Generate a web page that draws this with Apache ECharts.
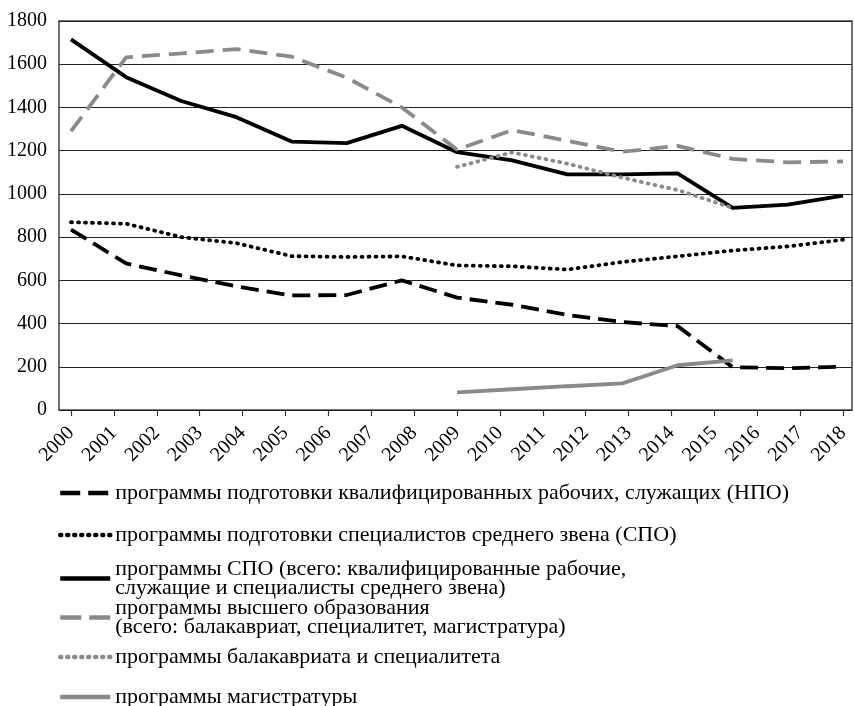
<!DOCTYPE html>
<html>
<head>
<meta charset="utf-8">
<script src="https://cdn.jsdelivr.net/npm/echarts@6/dist/echarts.min.js"></script>
<style>
  html, body { margin: 0; padding: 0; background: #fff; }
  #chart { width: 854px; height: 706px; }
</style>
</head>
<body>
<div id="chart"></div>
<script>
// tick labels on the x axis
const years = ['2000', '2001', '2002', '2003', '2004', '2005', '2006', '2007', '2008', '2009',
  '2010', '2011', '2012', '2013', '2014', '2015', '2016', '2017', '2018'];
// the lines have 15 evenly spaced points stretched over the same span
const points = ['1', '2', '3', '4', '5', '6', '7', '8', '9', '10', '11', '12', '13', '14', '15'];

const npo = [835, 678, 623, 572, 530, 532, 600, 520, 487, 440, 407, 388, 198, 193, 200];
const spoSpec = [869, 862, 800, 772, 712, 708, 711, 669, 665, 650, 685, 711, 738, 757, 788];
const spoTotal = [1715, 1540, 1430, 1355, 1242, 1235, 1315, 1193, 1155, 1090, 1090, 1095, 935, 950, 992];
const higher = [1290, 1632, 1650, 1670, 1635, 1538, 1400, 1205, 1295, 1246, 1195, 1222, 1162, 1146, 1150];
const bachelor = [null, null, null, null, null, null, null, 1125, 1192, 1140, 1075, 1018, 935, null, null];
const master = [null, null, null, null, null, null, null, 82, 96, 110, 123, 207, 230, null, null];

const names = [
  'программы подготовки квалифицированных рабочих, служащих (НПО)',
  'программы подготовки специалистов среднего звена (СПО)',
  'программы СПО (всего: квалифицированные рабочие,\nслужащие и специалисты среднего звена)',
  'программы высшего образования\n(всего: балакавриат, специалитет, магистратура)',
  'программы балакавриата и специалитета',
  'программы магистратуры'
];

const font = 'Liberation Serif, Times New Roman, serif';
const black = '#000';
const gray = '#8a8a8a';

const styles = [
  { color: black, type: [18, 8], cap: 'butt' },
  { color: black, type: [1, 6], cap: 'round' },
  { color: black, type: 'solid', cap: 'butt' },
  { color: gray, type: [18, 9], cap: 'butt' },
  { color: gray, type: [1, 6], cap: 'round' },
  { color: gray, type: 'solid', cap: 'butt' }
];
const lines = [npo, spoSpec, spoTotal, higher, bachelor, master];

// one legend box per entry, so the uneven spacing can be kept
const legendTops = [482, 524, 558, 597, 646, 686];
const legendDash = [[20, 8], [1, 6], 'solid', [21, 8], [1, 6], 'solid'];
const legends = names.map((n, i) => ({
  data: [n],
  left: 58,
  top: legendTops[i],
  padding: 0,
  orient: 'vertical',
  itemWidth: 50,
  itemHeight: 14,
  selectedMode: false,
  itemStyle: { opacity: 0 },
  lineStyle: { width: 4.5, type: legendDash[i], cap: styles[i].cap },
  textStyle: { fontFamily: font, fontSize: 22, color: '#000', lineHeight: 19 }
}));

const chart = echarts.init(document.getElementById('chart'));
chart.setOption({
  animation: false,
  legend: legends,
  grid: [
    { left: 59, right: 2, top: 21, bottom: 296, show: true, borderColor: '#444', borderWidth: 1.5 },
    { left: 71, right: 11, top: 21, bottom: 296 }
  ],
  xAxis: [
    { type: 'category', gridIndex: 0, data: years, show: false },
    {
      type: 'category', gridIndex: 1, data: years, boundaryGap: false,
      axisLine: { show: false },
      axisTick: { show: true, length: 6, lineStyle: { color: '#333', width: 1.2 } },
      axisLabel: { rotate: 45, margin: 20, fontFamily: font, fontSize: 20, color: '#000' },
      splitLine: { show: false }
    },
    { type: 'category', gridIndex: 1, data: points, boundaryGap: false, show: false }
  ],
  yAxis: [
    {
      type: 'value', gridIndex: 0, min: 0, max: 1800, interval: 200,
      axisLine: { show: false },
      axisTick: { show: false },
      axisLabel: { margin: 12, fontFamily: font, fontSize: 20, color: '#000', formatter: v => String(v) },
      splitLine: { lineStyle: { color: '#222', width: 1.2 } }
    },
    { type: 'value', gridIndex: 1, min: 0, max: 1800, interval: 200, show: false, splitLine: { show: false } }
  ],
  series: names.map((n, i) => ({
    name: n,
    type: 'line',
    xAxisIndex: 2,
    yAxisIndex: 1,
    data: lines[i],
    symbol: 'none',
    silent: true,
    lineStyle: { color: styles[i].color, width: 3.8, type: styles[i].type, cap: styles[i].cap },
    itemStyle: { color: styles[i].color }
  }))
});
</script>
</body>
</html>
